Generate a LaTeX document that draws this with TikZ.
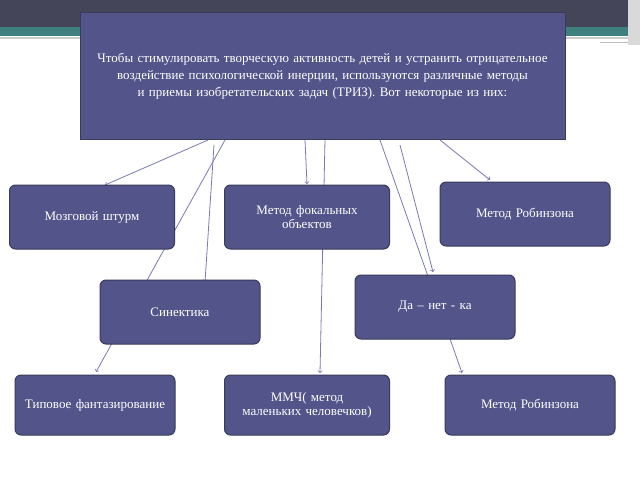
\documentclass[tikz,border=0pt]{standalone}
\usepackage{fontspec}
\setmainfont{Liberation Serif}
\tikzset{>=to}
\definecolor{boxblue}{HTML}{53548A}
\definecolor{boxedge}{HTML}{3A3A5A}
\definecolor{topbar}{HTML}{45455A}
\definecolor{teal}{HTML}{3F7F7E}
\definecolor{linkcol}{HTML}{7A7AB0}
\tikzset{
  methodbox/.style={draw=boxedge,fill=boxblue,rounded corners=6pt,text=white,
    align=center,minimum width=165pt,minimum height=64pt,text width=150pt,
    font=\fontsize{13}{14}\selectfont,line width=1pt},
  linkarrow/.style={->,draw=linkcol,line width=0.8pt}
}
\begin{document}
\begin{tikzpicture}[x=1pt,y=-1pt]
  \useasboundingbox (0,0) rectangle (640,480);
  % slide decoration
  \fill[topbar] (0,0) rectangle (640,27);
  \fill[teal] (0,27) rectangle (640,36);
  \draw[gray!40,line width=1.5pt] (0,38) -- (640,38);
  \draw[gray!50,line width=1pt] (600,42) -- (640,42);
  \fill[gray!30] (628,0) rectangle (640,45);
  % title
  \node[draw=boxedge,fill=boxblue,text=white,align=center,text width=470pt,
    minimum width=485pt,minimum height=127pt,font=\fontsize{13}{17}\selectfont]
    (title) at (322.5,76)
    {Чтобы стимулировать творческую активность детей и устранить отрицательное воздействие психологической инерции, используются различные методы и приемы изобретательских задач (ТРИЗ). Вот некоторые из них:};
  % connectors drawn before boxes
  \coordinate (t1) at (208,140);
  \coordinate (t2) at (225,140);
  \coordinate (t3) at (214,145);
  \coordinate (t4) at (305,140);
  \coordinate (t5) at (325,140);
  \coordinate (t6) at (380,140);
  \coordinate (t7) at (400,145);
  \coordinate (t8) at (440,140);
  \draw[linkarrow] (t1) -- (105,185);
  \draw[linkarrow] (t2) -- (96,372);
  \draw[linkarrow] (t3) -- (205,282);
  \draw[linkarrow] (t4) -- (307,184);
  \draw[linkarrow] (t5) -- (320,373);
  \draw[linkarrow] (t6) -- (462,373);
  \draw[linkarrow] (t7) -- (433,272);
  \draw[linkarrow] (t8) -- (490,180);
  % boxes
  \node[methodbox] (brain) at (92,217) {Мозговой штурм};
  \node[methodbox] (focal) at (307,217) {Метод фокальных объектов};
  \node[methodbox,minimum width=170pt] (robin) at (525,214) {Метод Робинзона};
  \node[methodbox,minimum width=160pt] (synect) at (180,312) {Синектика};
  \node[methodbox,minimum width=160pt] (danet) at (435,307) {Да – нет - ка};
  \node[methodbox,minimum width=160pt,minimum height=60pt] (typical) at (95,405) {Типовое фантазирование};
  \node[methodbox,minimum height=60pt] (mmch) at (307,405) {ММЧ( метод маленьких человечков)};
  \node[methodbox,minimum width=170pt,minimum height=60pt] (robin2) at (530,405) {Метод Робинзона};
\end{tikzpicture}
\end{document}
